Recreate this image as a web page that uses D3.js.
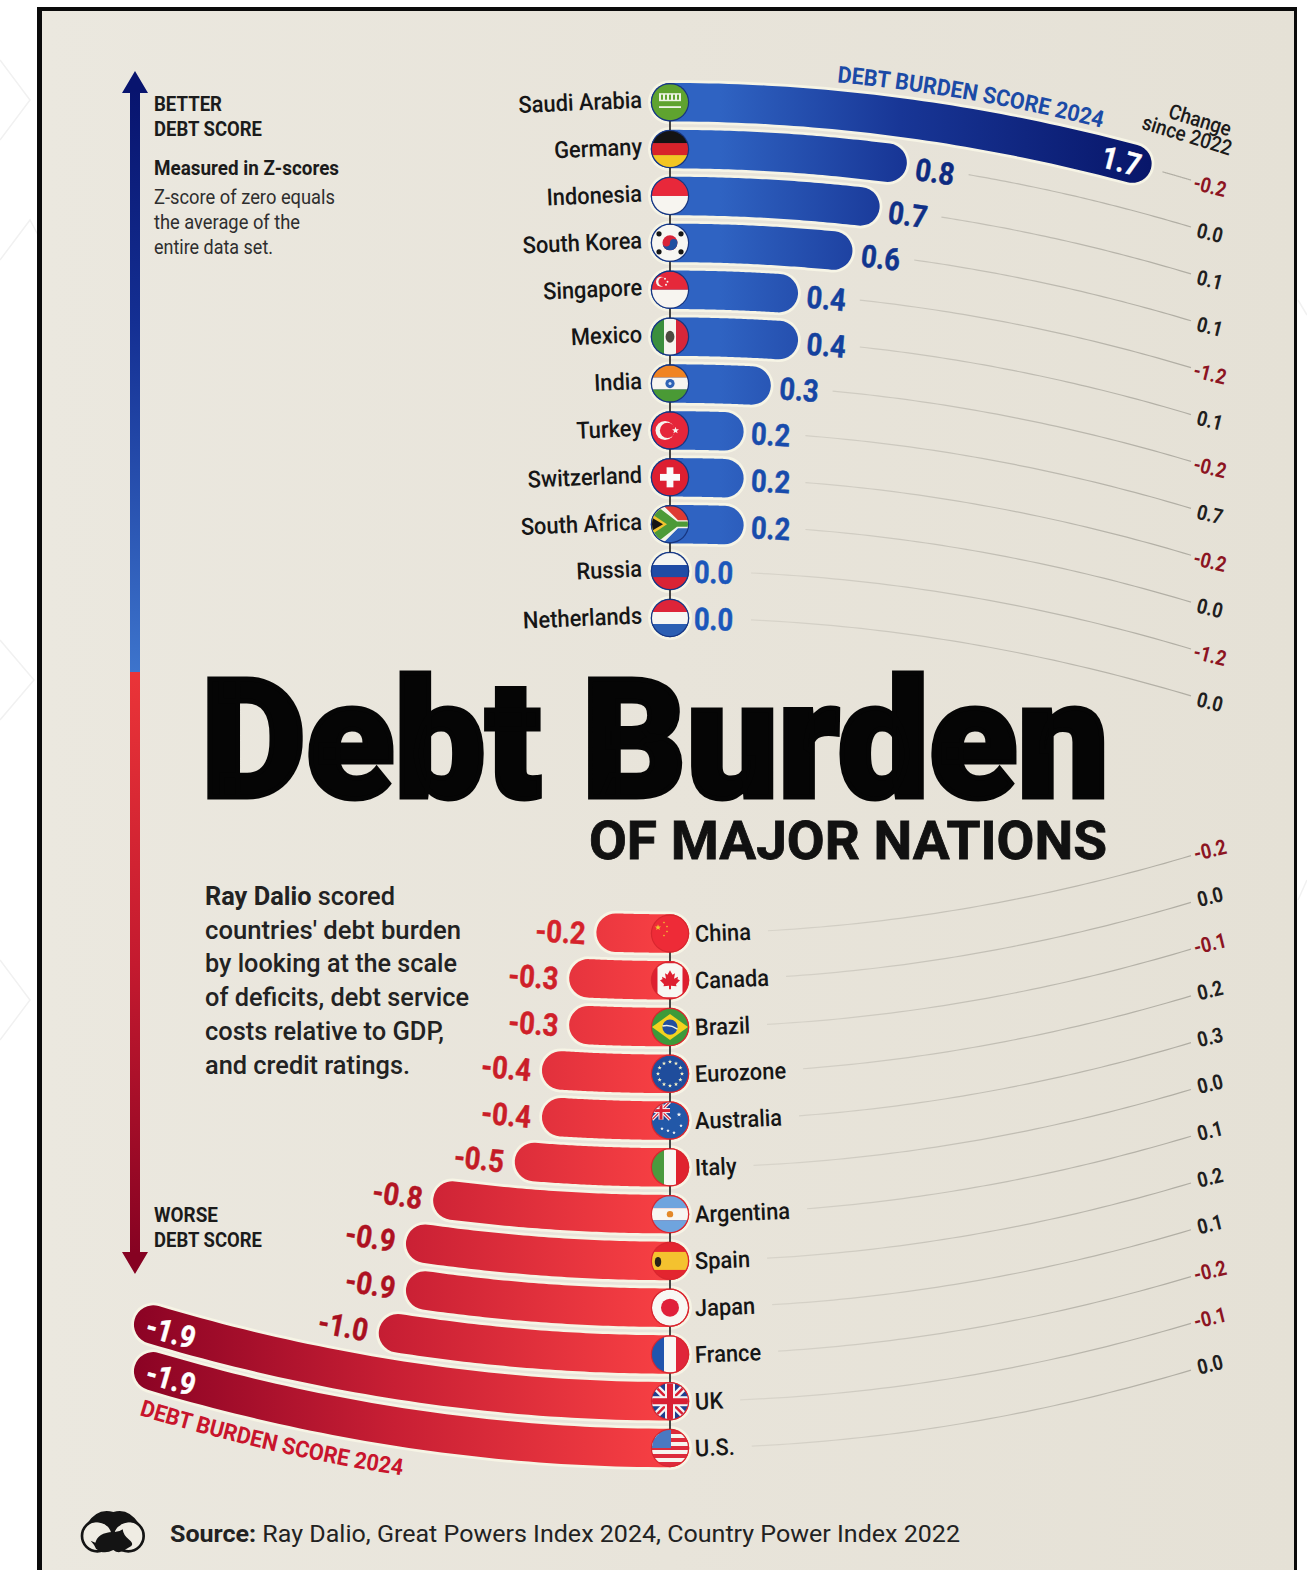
<!DOCTYPE html>
<html>
<head>
<meta charset="utf-8">
<style>
html,body{margin:0;padding:0;background:#fff;}
svg{display:block;}
text{font-family:Roboto,"Liberation Sans",sans-serif;}
</style>
<script src="https://cdn.jsdelivr.net/npm/d3@7/dist/d3.min.js"></script>
</head>
<body>
<svg id="chart" width="1307" height="1570"></svg>
<script>
// Z-score per country, strongest debt position first
const topCountries = ["Saudi Arabia","Germany","Indonesia","South Korea","Singapore","Mexico","India","Turkey","Switzerland","South Africa","Russia","Netherlands"];
const topScores = [1.7,0.8,0.7,0.6,0.4,0.4,0.3,0.2,0.2,0.2,0.0,0.0];
const topChanges = [-0.2,0.0,0.1,0.1,-1.2,0.1,-0.2,0.7,-0.2,0.0,-1.2,0.0];

const bottomCountries = ["China","Canada","Brazil","Eurozone","Australia","Italy","Argentina","Spain","Japan","France","UK","U.S."];
const bottomScores = [-0.2,-0.3,-0.3,-0.4,-0.4,-0.5,-0.8,-0.9,-0.9,-1.0,-1.9,-1.9];
const bottomChanges = [-0.2,0.0,-0.1,0.2,0.3,0.0,0.1,0.2,0.1,-0.2,-0.1,0.0];

const scoreTitle = "DEBT BURDEN SCORE 2024";
const paragraph = [
  [["Ray Dalio",700],[" scored",500]],
  [["countries' debt burden",500]],
  [["by looking at the scale",500]],
  [["of deficits, debt service",500]],
  [["costs relative to GDP,",500]],
  [["and credit ratings.",500]]
];
const noteLines = ["Z-score of zero equals","the average of the","entire data set."];

const svg = d3.select("#chart");
const defs = svg.append("defs");

const AXIS_X = 670, BAR_W = 38.5, CAP = 20, BEND = 2.87e-4;
const x = d3.scaleLinear().domain([0,1]).range([AXIS_X, AXIS_X + 272]);
const yTop = d3.scalePoint().domain(topCountries).range([102.2, 618]);
const yBottom = d3.scalePoint().domain(bottomCountries).range([933.5, 1448]);

// The rows fan out from the central axis along a parabola
const bendTop = px => BEND*(px-AXIS_X)*(px-AXIS_X);
const bendBottom = px => -BEND*(px-AXIS_X)*(px-AXIS_X);
const slopeDeg = (px, sign) => Math.atan(sign*2*BEND*(px-AXIS_X))*180/Math.PI;
const curve = (from, to, yAt, n=48) => d3.line()(d3.range(n+1).map(i => {
  const px = from + (to-from)*i/n;
  return [px, yAt(px)];
}));

function gradient(id, x1, x2, stops){
  const g = defs.append("linearGradient").attr("id",id).attr("gradientUnits","userSpaceOnUse")
    .attr("x1",x1).attr("x2",x2).attr("y1",0).attr("y2",0);
  stops.forEach(([o,c]) => g.append("stop").attr("offset",o).attr("stop-color",c));
}
gradient("barBlue", 720, 1150, [[0,"#2f63c2"],[0.42,"#183696"],[1,"#08166a"]]);
gradient("barRed", 660, 130, [[0,"#f63f43"],[0.5,"#c81f34"],[1,"#8a0224"]]);
gradient("panelFill", 42, 1294, [[0,"#ebe8df"],[0.5,"#e8e4da"],[1,"#e5e1d6"]]);
gradient("leadLine", 700, 1190, [[0,"#dedad0"],[1,"#b0ada3"]]);

const arrowGrad = defs.append("linearGradient").attr("id","arrowGrad").attr("gradientUnits","userSpaceOnUse")
  .attr("x1",0).attr("x2",0).attr("y1",90).attr("y2",1255);
[[0,"#08146e"],[0.2,"#142f93"],[0.5,"#3d74cc"],[0.5,"#ea3438"],[0.75,"#c41a2f"],[1,"#860222"]]
  .forEach(([o,c]) => arrowGrad.append("stop").attr("offset",o).attr("stop-color",c));

defs.append("clipPath").attr("id","flagClip").append("circle").attr("r",18);

// Pale line ornament on the page margin behind the frame
const ornament = svg.append("g").attr("fill","none").attr("stroke","#f1f1f1").attr("stroke-width",1.5);
["M0 60 L30 100 L0 140","M0 260 L30 220 L38 235","M0 640 L34 680 L0 720","M0 960 L30 1000 L0 1040","M1298 300 L1307 315","M1298 900 L1307 880"]
  .forEach(d=>ornament.append("path").attr("d",d));

// Frame and panel
svg.append("rect").attr("x",37).attr("y",7).attr("width",1260).attr("height",1570).attr("fill","#0a0a0a");
svg.append("rect").attr("x",42).attr("y",11).attr("width",1252).attr("height",1570).attr("fill","url(#panelFill)");

function text(parent, o){
  const t = parent.append("text")
    .attr("transform",`translate(${o.x},${o.y}) rotate(${o.rot||0}) scale(${o.sx||1},1)`)
    .attr("text-anchor",o.anchor||"start")
    .attr("font-size",o.size).attr("font-weight",o.weight||400)
    .attr("fill",o.fill||"#1b1b1b");
  if(o.middle) t.attr("dy","0.36em");
  if(o.spacing) t.attr("letter-spacing",o.spacing);
  if(o.length) t.attr("textLength",o.length).attr("lengthAdjust","spacingAndGlyphs");
  t.text(o.text);
  return t;
}

// Vertical better/worse arrow
const arrow = svg.append("g");
arrow.append("path").attr("fill","url(#arrowGrad)")
  .attr("d","M135 71 L148 93 L140 93 L140 1252 L148 1252 L135 1274 L122 1252 L130 1252 L130 93 L122 93 Z");

const sideNotes = svg.append("g");
text(sideNotes,{text:"BETTER",x:154,y:111,size:21,weight:700,length:68});
text(sideNotes,{text:"DEBT SCORE",x:154,y:136,size:21,weight:700,length:108});
text(sideNotes,{text:"Measured in Z-scores",x:154,y:175,size:20,weight:700,length:185});
noteLines.forEach((line,i)=>text(sideNotes,{
  text:line,x:154,y:204+25*i,size:19.5,weight:400,fill:"#2e2e2e",length:[181,146,119][i]
}));
text(sideNotes,{text:"WORSE",x:154,y:1222,size:21,weight:700,length:64});
text(sideNotes,{text:"DEBT SCORE",x:154,y:1247,size:21,weight:700,length:108});

// Title
const title = svg.append("g");
text(title,{text:"Debt Burden",x:201,y:797,size:165,weight:900,fill:"#050505",length:908})
  .attr("stroke","#050505").attr("stroke-width",5).attr("stroke-linejoin","miter");
text(title,{text:"OF MAJOR NATIONS",x:589,y:859,size:53,weight:700,fill:"#111",length:518})
  .attr("stroke","#111").attr("stroke-width",0.8);

// Intro paragraph
const intro = svg.append("g");
const lineWidths = [190,256,252,264,239,205];
paragraph.forEach((runs,i)=>{
  const t = intro.append("text").attr("x",205).attr("y",905+33.7*i)
    .attr("font-size",26).attr("fill","#222")
    .attr("textLength",lineWidths[i]).attr("lengthAdjust","spacingAndGlyphs");
  runs.forEach(([s,w])=>t.append("tspan").attr("font-weight",w).text(s));
});

// One group of diverging rows: connector leads, bars, axis, flags and labels
function drawRows(cfg){
  const {countries, scores, changes, yRow, bend, sign} = cfg;
  const root = svg.append("g");
  const rows = countries.map((name,i)=>({name,score:scores[i],change:changes[i],row:yRow(name)}));

  const leads = root.append("g");

  root.append("g").selectAll("path").data(rows).join("path")
    .attr("fill","none").attr("stroke","#f6f4e5").attr("stroke-width",BAR_W+5.5).attr("stroke-linecap","round")
    .attr("d",d=>curve(AXIS_X,x(d.score),px=>d.row+bend(px)));
  root.append("g").selectAll("path").data(rows).join("path")
    .attr("fill","none").attr("stroke",cfg.barPaint).attr("stroke-width",BAR_W).attr("stroke-linecap","round")
    .attr("d",d=>curve(AXIS_X,x(d.score),px=>d.row+bend(px)));

  root.append("line").attr("x1",AXIS_X).attr("x2",AXIS_X)
    .attr("y1",rows[0].row).attr("y2",rows[rows.length-1].row)
    .attr("stroke","#1c1c1c").attr("stroke-width",1.6);

  const flags = root.append("g").selectAll("g").data(rows).join("g")
    .attr("transform",d=>`translate(${AXIS_X},${d.row})`);
  flags.append("circle").attr("r",19.2).attr("fill",cfg.ring);
  flags.append("g").attr("clip-path","url(#flagClip)").each(function(d){
    flagPainters[d.name](d3.select(this));
  });

  const names = root.append("g");
  const nameNodes = rows.map(d=>{
    const px = cfg.nameX - sign*60;
    const t = text(names,{text:d.name,x:cfg.nameX,y:d.row+cfg.nameShift,rot:slopeDeg(px,cfg.bendSign)*0.85,
      sx:0.93,size:23.5,weight:500,anchor:cfg.nameAnchor,middle:true,fill:"#161616"});
    return t.node().getComputedTextLength()*0.93;
  });

  const values = root.append("g");
  rows.forEach(d=>{
    const inside = Math.abs(d.score) >= 1.5;
    const end = x(d.score) + sign*CAP;
    const gap = sign>0 ? 4 + 4*Math.min(d.score/0.3,1) : 10;
    const px = inside ? x(d.score) - sign*(sign>0?11:18) : end + sign*(sign>0?24:32);
    const tx = inside ? px : end + sign*gap;
    const drop = sign<0 ? (inside ? 2 : 2 + 4*Math.abs(d.score)) : 0;
    text(values,{text:d.score.toFixed(1),x:tx,y:d.row+bend(px)+drop,rot:slopeDeg(px,cfg.bendSign),
      sx:0.88,size:31,weight:700,anchor:inside?"middle":(sign>0?"start":"end"),middle:true,
      fill:inside?"#ffffff":cfg.valueColor(d.score)})
      .attr("stroke",inside?"#ffffff":cfg.valueColor(d.score)).attr("stroke-width",0.5);
  });

  leads.selectAll("path").data(rows).join("path")
    .attr("fill","none").attr("stroke","url(#leadLine)").attr("stroke-width",1.2)
    .attr("d",(d,i)=>{
      const inside = Math.abs(d.score) >= 1.5;
      const from = sign>0
        ? x(d.score)+CAP+(inside?10:61)
        : cfg.nameX+nameNodes[i]+17;
      return curve(from,1191,px=>d.row+bend(px));
    });

  const changeLabels = root.append("g");
  rows.forEach(d=>{
    const px = 1210;
    text(changeLabels,{text:d.change.toFixed(1),x:px,y:d.row+bend(px),rot:slopeDeg(px,cfg.bendSign)*0.8,
      sx:0.86,size:21,weight:700,anchor:"middle",middle:true,
      fill:d.change<0?"#8c1422":"#1f1f1f"});
  });
  return root;
}

// Small flag drawings in a circle of radius 18 centred on the origin
const R = 18;
const rect = (g,x0,y0,w,h,f)=>g.append("rect").attr("x",x0).attr("y",y0).attr("width",w).attr("height",h).attr("fill",f);
const disc = (g,cx,cy,r,f)=>g.append("circle").attr("cx",cx).attr("cy",cy).attr("r",r).attr("fill",f);
const poly = (g,pts,f)=>g.append("polygon").attr("points",pts.map(p=>p.join(",")).join(" ")).attr("fill",f);
const hBands = (g,cols)=>cols.forEach((c,i)=>rect(g,-R,-R+i*2*R/cols.length,2*R,2*R/cols.length,c));
const vBands = (g,cols)=>cols.forEach((c,i)=>rect(g,-R+i*2*R/cols.length,-R,2*R/cols.length,2*R,c));
function star(g,cx,cy,r,f){
  const pts = d3.range(10).map(i=>{
    const a = -Math.PI/2+i*Math.PI/5, rr = i%2?r*0.42:r;
    return [cx+rr*Math.cos(a),cy+rr*Math.sin(a)];
  });
  poly(g,pts,f);
}
function unionJack(g){
  rect(g,-R,-R,2*R,2*R,"#1f3f8f");
  const diag=(w,c)=>{
    g.append("line").attr("x1",-R).attr("y1",-R).attr("x2",R).attr("y2",R).attr("stroke",c).attr("stroke-width",w);
    g.append("line").attr("x1",-R).attr("y1",R).attr("x2",R).attr("y2",-R).attr("stroke",c).attr("stroke-width",w);
  };
  diag(7,"#f4f4f4"); diag(2.6,"#d81f33");
  rect(g,-R,-5,2*R,10,"#f4f4f4"); rect(g,-5,-R,10,2*R,"#f4f4f4");
  rect(g,-R,-3,2*R,6,"#d81f33"); rect(g,-3,-R,6,2*R,"#d81f33");
}
const flagPainters = {
  "Saudi Arabia":g=>{
    rect(g,-R,-R,2*R,2*R,"#5fa32f");
    rect(g,-11,-9,22,8,"#eef3e4");
    [-8,-4,0,4,8].forEach(a=>rect(g,a-1,-7.5,2,5,"#5fa32f"));
    rect(g,-11,4,22,1.8,"#eef3e4");
  },
  "Germany":g=>hBands(g,["#141414","#d8232a","#f3c623"]),
  "Indonesia":g=>hBands(g,["#e8283a","#f7f5f0"]),
  "South Korea":g=>{
    rect(g,-R,-R,2*R,2*R,"#f7f6f2");
    disc(g,0,0,7.5,"#d92338");
    g.append("path").attr("d","M-7.5 0 A7.5 7.5 0 0 0 7.5 0 A3.75 3.75 0 0 0 0 0 A3.75 3.75 0 0 1 -7.5 0").attr("fill","#1f4fa0");
    [[-11,-9],[11,-9],[-11,9],[11,9]].forEach(([a,b])=>disc(g,a,b,2.6,"#161616"));
  },
  "Singapore":g=>{
    hBands(g,["#e5283a","#f7f5f0"]);
    disc(g,-9,-8,5,"#f7f5f0"); disc(g,-7,-8,4.6,"#e5283a");
    [[-5,-11],[-2.5,-8],[-4,-5]].forEach(([a,b])=>disc(g,a,b,1,"#f7f5f0"));
  },
  "Mexico":g=>{
    vBands(g,["#3b8f3d","#f6f4ee","#d7263a"]);
    g.append("ellipse").attr("rx",4.4).attr("ry",6).attr("fill","#4d4a40");
  },
  "India":g=>{
    hBands(g,["#f08423","#f7f5f0","#4a9a35"]);
    disc(g,0,0,4.6,"#2f63b5"); disc(g,0,0,1.5,"#cfe0f5");
  },
  "Turkey":g=>{
    rect(g,-R,-R,2*R,2*R,"#e5263a");
    disc(g,-5,0,9.5,"#f7f5f0"); disc(g,-2.5,0,7.6,"#e5263a");
    star(g,5.5,0,3.6,"#f7f5f0");
  },
  "Switzerland":g=>{
    rect(g,-R,-R,2*R,2*R,"#dd1f31");
    rect(g,-3.4,-10,6.8,20,"#fafafa"); rect(g,-10,-3.4,20,6.8,"#fafafa");
  },
  "South Africa":g=>{
    hBands(g,["#de3a33","#2f63bd"]);
    poly(g,[[-R,-R],[-6,-R],[8,-4],[R,-4],[R,4],[8,4],[-6,R],[-R,R]],"#f4f4ea");
    poly(g,[[-R,-15],[-9,-15],[7,-2.6],[R,-2.6],[R,2.6],[7,2.6],[-9,15],[-R,15]],"#4d9a37");
    poly(g,[[-R,-10],[-3,0],[-R,10]],"#f0c42f");
    poly(g,[[-R,-6.5],[-7,0],[-R,6.5]],"#151515");
  },
  "Russia":g=>hBands(g,["#f5f5f2","#1f4ca6","#d92335"]),
  "Netherlands":g=>hBands(g,["#dd2439","#f6f5f2","#2c5fb3"]),
  "China":g=>{
    rect(g,-R,-R,2*R,2*R,"#ee2b37");
    star(g,-12,-6,3.2,"#f3c731");
    [[-6,-11],[-3,-7],[-3,-2],[-6,2]].forEach(([a,b])=>star(g,a,b,1.2,"#f3c731"));
  },
  "Canada":g=>{
    rect(g,-R,-R,2*R,2*R,"#de1f30");
    g.append("rect").attr("x",-12.5).attr("y",-17).attr("width",25).attr("height",34).attr("rx",4).attr("fill","#f8f7f3");
    g.append("path").attr("fill","#de1f30")
      .attr("d","M0 -10 L2.5 -5.5 L5 -7 L4 -1.5 L8 -3.5 L7.5 -1 L10 0 L6 4 L6.5 6 L1 5.5 L1 9 L-1 9 L-1 5.5 L-6.5 6 L-6 4 L-10 0 L-7.5 -1 L-8 -3.5 L-4 -1.5 L-5 -7 L-2.5 -5.5 Z");
  },
  "Brazil":g=>{
    rect(g,-R,-R,2*R,2*R,"#3d9a3a");
    poly(g,[[-R,0],[0,-13],[R,0],[0,13]],"#f4d21f");
    disc(g,0,0,7.6,"#234f9f");
    g.append("path").attr("d","M-7.5 -1 Q0 -3 7.5 2").attr("stroke","#f2f2ea").attr("stroke-width",1.4).attr("fill","none");
  },
  "Eurozone":g=>{
    rect(g,-R,-R,2*R,2*R,"#1f4d9c");
    d3.range(12).forEach(i=>{
      const a = i*Math.PI/6;
      star(g,12*Math.cos(a),12*Math.sin(a),2.2,"#f4efc6");
    });
  },
  "Australia":g=>{
    rect(g,-R,-R,2*R,2*R,"#2258a8");
    const u = g.append("g").attr("transform","translate(-9,-10) scale(0.5)");
    unionJack(u);
    [[9,-6],[11,5],[-2,10],[4,12],[-8,8]].forEach(([a,b],i)=>star(g,a,b,i?1.9:2.4,"#f7f7f7"));
  },
  "Italy":g=>vBands(g,["#4a9a3e","#f8f7f2","#e0232f"]),
  "Argentina":g=>{
    hBands(g,["#6fa4de","#f7f6f2","#6fa4de"]);
    disc(g,0,0,3.2,"#e3892a");
  },
  "Spain":g=>{
    rect(g,-R,-R,2*R,2*R,"#e3252f");
    rect(g,-R,-9,2*R,18,"#f4c22f");
    g.append("ellipse").attr("cx",-12).attr("cy",1).attr("rx",3.2).attr("ry",5).attr("fill","#2a2218");
  },
  "Japan":g=>{
    disc(g,0,0,R,"#f8f7f3");
    disc(g,0,0,9,"#e0203a");
  },
  "France":g=>vBands(g,["#2155ad","#f8f7f3","#e0263a"]),
  "UK":unionJack,
  "U.S.":g=>{
    d3.range(9).forEach(i=>rect(g,-R,-R+i*4,2*R,4,i%2?"#f6f4ee":"#dd2b3c"));
    rect(g,-R,-R,R+1,18,"#4a79c2");
  }
};

const blueShade = d3.scaleLinear().domain([0,0.8]).range(["#1b57bb","#0d2a80"]);
const redShade = d3.scaleLinear().domain([-0.2,-1.0]).range(["#d5222a","#a80f20"]);

drawRows({countries:topCountries,scores:topScores,changes:topChanges,yRow:yTop,bend:bendTop,
  sign:1,bendSign:1,barPaint:"url(#barBlue)",ring:"#17357f",nameX:642,nameAnchor:"end",nameShift:-3,valueColor:blueShade});
drawRows({countries:bottomCountries,scores:bottomScores,changes:bottomChanges,yRow:yBottom,bend:bendBottom,
  sign:-1,bendSign:-1,barPaint:"url(#barRed)",ring:"#d8262f",nameX:695,nameAnchor:"start",nameShift:0,valueColor:redShade});

// Curved captions that follow the outermost bars
defs.append("path").attr("id","arcTop").attr("d",curve(837,1110,px=>yTop(topCountries[0])+bendTop(px)-28));
defs.append("path").attr("id","arcBottom").attr("d",curve(139,412,px=>yBottom("U.S.")+bendBottom(px)+48));
[["#arcTop","#1b4aa6"],["#arcBottom","#c8142c"]].forEach(([href,fill])=>{
  svg.append("text").attr("font-size",23).attr("font-weight",700).attr("fill",fill)
    .append("textPath").attr("href",href).attr("textLength",href==="#arcTop"?269:270)
    .attr("lengthAdjust","spacingAndGlyphs").text(scoreTitle);
});

// Column heading for the change values
text(svg,{text:"Change",x:1198,y:127,rot:17,sx:0.9,size:21,weight:500,anchor:"middle"});
text(svg,{text:"since 2022",x:1185,y:142,rot:17,sx:0.9,size:21,weight:500,anchor:"middle"});

// Publisher mark and source line
const mark = svg.append("g").attr("transform","translate(60,1490) scale(0.3333)");
mark.append("circle").attr("cx",112).attr("cy",138).attr("r",46).attr("fill","#efece3").attr("stroke","#141414").attr("stroke-width",8);
mark.append("circle").attr("cx",205).attr("cy",138).attr("r",46).attr("fill","#efece3").attr("stroke","#141414").attr("stroke-width",8);
mark.append("path").attr("fill","#141414").attr("d","M80 102 Q112 52 160 66 Q205 52 238 102 Q190 85 160 125 Q128 85 80 102 Z");
mark.append("path").attr("fill","#141414").attr("d","M92 152 L106 158 Q114 128 158 126 Q176 128 188 118 Q190 135 206 148 Q222 160 214 168 L200 176 Q178 195 160 180 Q130 196 108 176 Q104 165 92 152 Z");

const source = svg.append("text").attr("x",170).attr("y",1542).attr("font-size",24.5).attr("fill","#222")
  .attr("textLength",790).attr("lengthAdjust","spacingAndGlyphs");
source.append("tspan").attr("font-weight",700).text("Source:");
source.append("tspan").attr("font-weight",400).text(" Ray Dalio, Great Powers Index 2024, Country Power Index 2022");
</script>
</body>
</html>
